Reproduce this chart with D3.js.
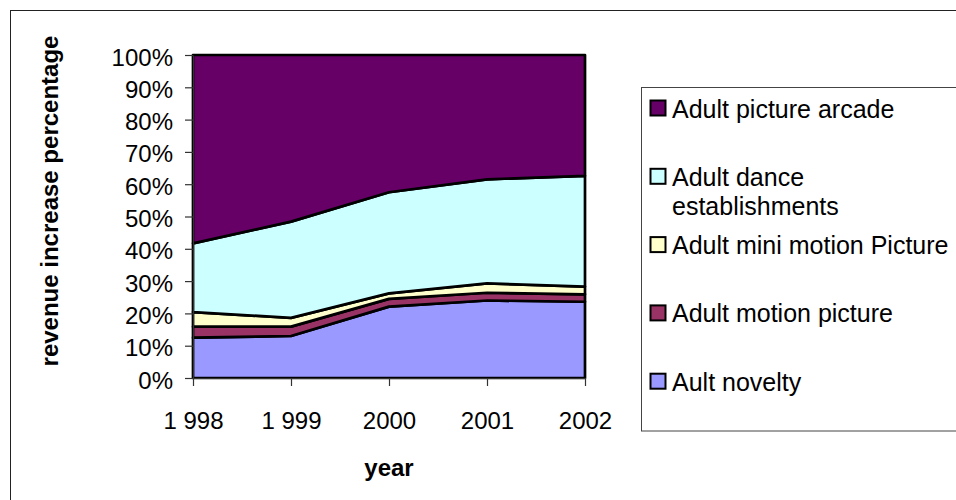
<!DOCTYPE html>
<html>
<head>
<meta charset="utf-8">
<script src="https://cdn.jsdelivr.net/npm/d3@7"></script>
<style>
  body { margin: 0; background: #fff; }
  svg { display: block; }
  text { font-family: "Liberation Sans", Arial, Helvetica, sans-serif; fill: #000; }
</style>
</head>
<body>
<svg id="chart" width="956" height="500"></svg>
<script>
// Years on the category axis (labels as printed)
const years = ["1 998", "1 999", "2000", "2001", "2002"];

// Share of revenue increase per segment (percent of yearly total)
const aultNovelty        = [12.5, 13.0, 22.1, 24.0, 23.6];
const adultMotionPicture = [3.4, 2.9, 2.4, 2.4, 2.3];
const adultMiniMotion    = [4.5, 2.7, 1.7, 2.9, 2.4];
const adultDance         = [21.3, 29.8, 31.3, 32.2, 34.3];
const adultPictureArcade = [58.3, 51.6, 42.5, 38.5, 37.4];

// Series names, bottom of the stack first
const seriesNames = ["Ault novelty", "Adult motion picture", "Adult mini motion Picture",
                     "Adult dance establishments", "Adult picture arcade"];
const seriesValues = [aultNovelty, adultMotionPicture, adultMiniMotion, adultDance, adultPictureArcade];
const seriesColors = ["#9999FF", "#993366", "#FFFFCC", "#CCFFFF", "#660066"];

// Legend text lines for each series (same order as seriesNames)
const legendLines = [["Ault novelty"], ["Adult motion picture"], ["Adult mini motion Picture"],
                     ["Adult dance", "establishments"], ["Adult picture arcade"]];

const yTicks = [0, 0.1, 0.2, 0.3, 0.4, 0.5, 0.6, 0.7, 0.8, 0.9, 1];

const svg = d3.select("#chart");

// Chart frame
svg.append("rect")
  .attr("x", 10.5).attr("y", 10.5)
  .attr("width", 1000).attr("height", 600)
  .attr("fill", "none").attr("stroke", "#222").attr("stroke-width", 1);

const plot = { left: 193, right: 585, top: 55, bottom: 378 };

const x = d3.scalePoint().domain(years).range([plot.left, plot.right]);
const y = d3.scaleLinear().domain([0, 1]).range([plot.bottom, plot.top]);

// Table for the stack layout
const rows = years.map((yr, i) => {
  const r = { year: yr };
  seriesNames.forEach((name, s) => { r[name] = seriesValues[s][i]; });
  return r;
});

const stacked = d3.stack()
  .keys(seriesNames)
  .offset(d3.stackOffsetExpand)(rows);

const area = d3.area()
  .x(d => x(d.data.year))
  .y0(d => y(d[0]))
  .y1(d => y(d[1]));

svg.append("g").selectAll("path")
  .data(stacked)
  .join("path")
  .attr("d", area)
  .attr("fill", (d, i) => seriesColors[i])
  .attr("stroke", "#000")
  .attr("stroke-width", 2.7)
  .attr("stroke-linejoin", "round");

// Y axis
const yAxis = svg.append("g")
  .attr("transform", `translate(${plot.left},0)`)
  .call(d3.axisLeft(y).tickValues(yTicks).tickFormat(d3.format(".0%"))
        .tickSize(8).tickSizeOuter(0).tickPadding(12));
yAxis.selectAll("text").attr("font-size", 24).attr("dy", "0.42em");

// X axis
const xAxis = svg.append("g")
  .attr("transform", `translate(0,${plot.bottom})`)
  .call(d3.axisBottom(x).tickSize(8).tickSizeOuter(0).tickPadding(26));
xAxis.selectAll("text").attr("font-size", 24);

svg.selectAll(".domain, .tick line").attr("stroke", "#333").attr("stroke-width", 1.2);

// Axis titles
svg.append("text")
  .attr("x", (plot.left + plot.right) / 2).attr("y", 476)
  .attr("text-anchor", "middle")
  .attr("font-size", 24).attr("font-weight", "bold")
  .text("year");

svg.append("text")
  .attr("transform", "translate(58,201) rotate(-90)")
  .attr("text-anchor", "middle")
  .attr("font-size", 24).attr("font-weight", "bold")
  .text("revenue increase percentage");

// Legend
svg.append("rect")
  .attr("x", 641.5).attr("y", 87.5)
  .attr("width", 400).attr("height", 343.5)
  .attr("fill", "#fff").attr("stroke", "#444").attr("stroke-width", 1);

const legendOrder = d3.range(seriesNames.length).reverse();
const legend = svg.append("g").selectAll("g")
  .data(legendOrder)
  .join("g")
  .attr("transform", (s, k) => `translate(650,${100 + k * 68.3})`);

legend.append("rect")
  .attr("x", 0.5).attr("y", 0.5)
  .attr("width", 15).attr("height", 15)
  .attr("fill", s => seriesColors[s])
  .attr("stroke", "#000").attr("stroke-width", 2);

legend.append("text")
  .attr("x", 22).attr("y", 17.5)
  .attr("font-size", 25)
  .selectAll("tspan")
  .data(s => legendLines[s])
  .join("tspan")
  .attr("x", 22)
  .attr("dy", (d, i) => i === 0 ? 0 : 29)
  .text(d => d);
</script>
</body>
</html>
